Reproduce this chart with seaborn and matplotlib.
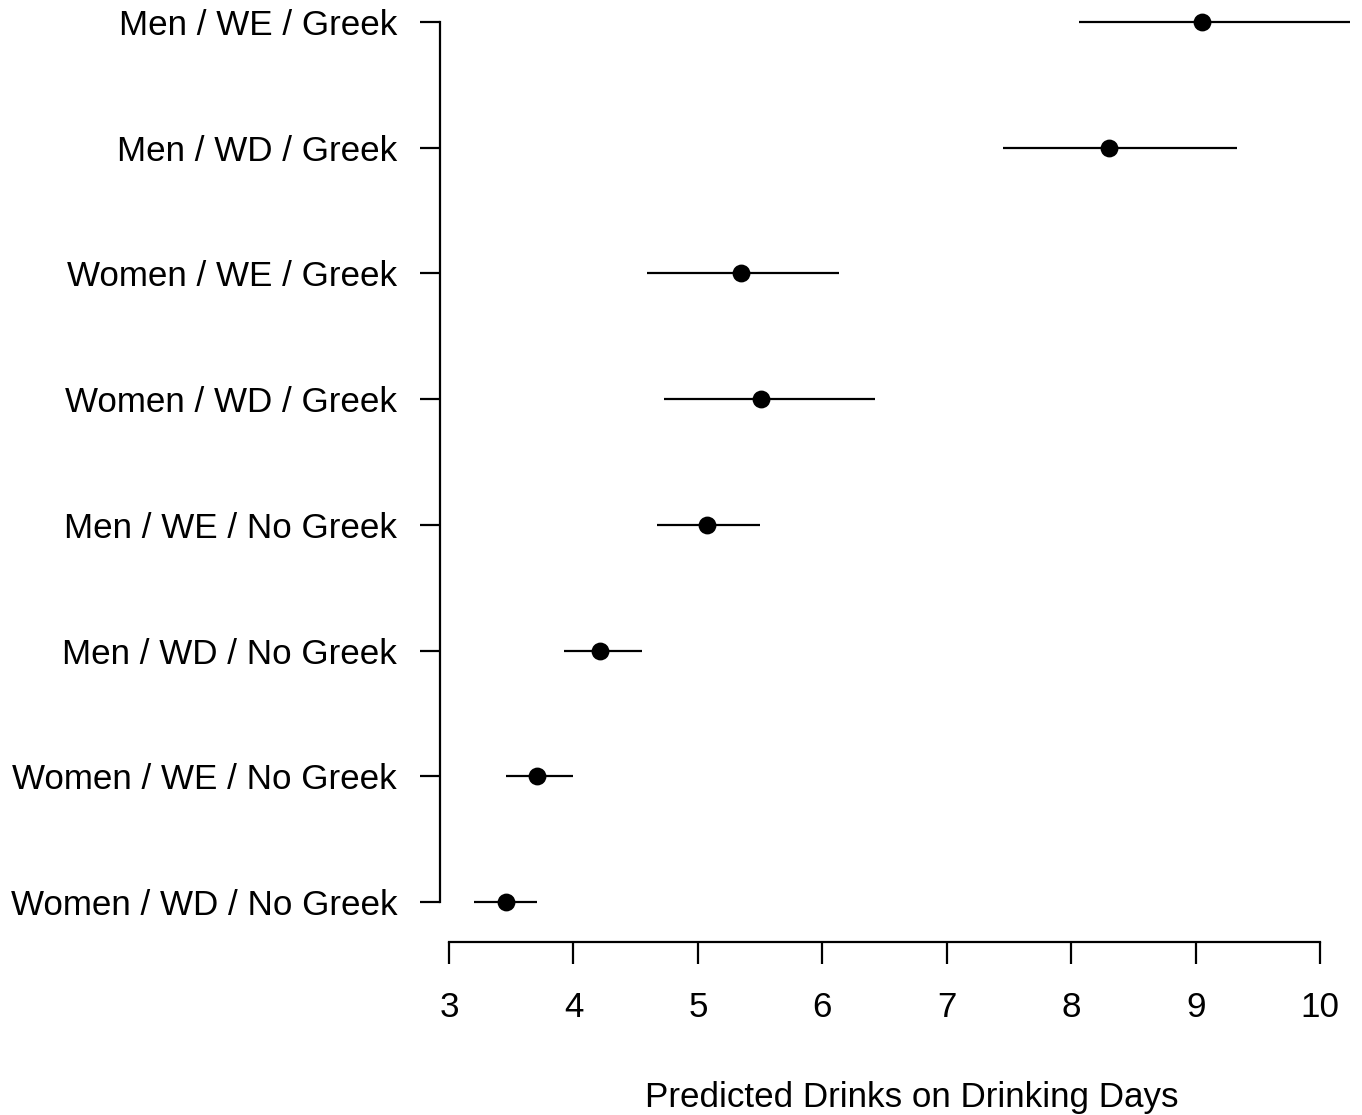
import numpy as np
import pandas as pd
import matplotlib
matplotlib.use("Agg")
import matplotlib.pyplot as plt
import seaborn as sns

labels = ["Men / WE / Greek", "Men / WD / Greek", "Women / WE / Greek",
          "Women / WD / Greek", "Men / WE / No Greek", "Men / WD / No Greek",
          "Women / WE / No Greek", "Women / WD / No Greek"]
estimate = [9.05, 8.30, 5.35, 5.51, 5.07, 4.21, 3.71, 3.46]
lower = [8.06, 7.45, 4.59, 4.73, 4.67, 3.92, 3.46, 3.20]
upper = [10.24, 9.33, 6.13, 6.42, 5.50, 4.55, 4.00, 3.71]
xticks = [3, 4, 5, 6, 7, 8, 9, 10]

df = pd.DataFrame({"label": labels, "est": estimate, "lo": lower, "hi": upper})

sns.set_style("ticks")
plt.rcParams["font.family"] = ["Liberation Sans", "DejaVu Sans"]
plt.rcParams["text.color"] = "black"
plt.rcParams["axes.labelcolor"] = "black"

fig = plt.figure(figsize=(13.62, 11.15), dpi=100)
ax = fig.add_axes([0.3231, 0.15516, 0.6931, 0.8565])

sns.pointplot(data=df, x="est", y="label", order=labels, linestyle="none",
              errorbar=None, color="black", markers="o", markersize=10.8,
              ax=ax, zorder=3)
ypos = np.arange(len(labels))
ax.hlines(ypos, df["lo"], df["hi"], color="black", lw=1.6, zorder=2)

ax.set_xlim(2.928, 10.514)
ax.set_ylim(7.318, -0.278)
ax.set_xticks(xticks)
ax.set_xticklabels([str(t) for t in xticks])

for s in ["top", "right"]:
    ax.spines[s].set_visible(False)
ax.spines["left"].set_bounds(0, 7)
ax.spines["bottom"].set_bounds(3, 10)
for s in ["left", "bottom"]:
    ax.spines[s].set_linewidth(1.6)
    ax.spines[s].set_color("black")

ax.tick_params(axis="x", length=15.5, width=1.6, pad=20, labelsize=25.2, colors="black")
ax.tick_params(axis="y", length=14.4, width=1.6, pad=16.5, labelsize=25.2, colors="black")

ax.set_ylabel("")
ax.set_xlabel("Predicted Drinks on Drinking Days", fontsize=25.2, va="baseline", color="black")
ax.xaxis.set_label_coords(0.5, -0.1728)

fig.savefig("out.png", dpi=100)
